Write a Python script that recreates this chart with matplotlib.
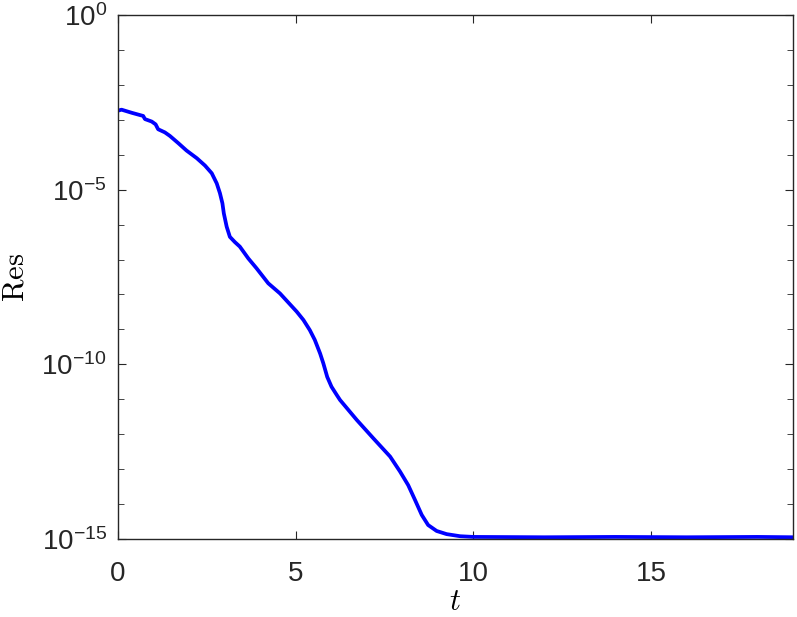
import numpy as np
import matplotlib
matplotlib.use('Agg')
import matplotlib.pyplot as plt
from matplotlib.ticker import FixedLocator, FuncFormatter

plt.rcParams['font.family'] = ['Liberation Sans', 'DejaVu Sans']
plt.rcParams['mathtext.fontset'] = 'custom'
plt.rcParams['mathtext.rm'] = 'Liberation Sans'
plt.rcParams['mathtext.it'] = 'Liberation Sans:italic'
plt.rcParams['mathtext.bf'] = 'Liberation Sans:bold'

# residual history (t, log10 Res)
t = [0.00, 0.10, 0.39, 0.71, 0.76, 0.95, 1.06, 1.13, 1.32, 1.46, 1.70, 1.93,
     2.22, 2.45, 2.64, 2.78, 2.87, 2.94, 2.98, 3.06, 3.15, 3.29, 3.43, 3.67,
     3.90, 4.23, 4.56, 4.84, 5.03, 5.22, 5.40, 5.54, 5.69, 5.78, 5.89, 6.01,
     6.16, 6.25, 6.72, 7.19, 7.66, 7.94, 8.17, 8.36, 8.55, 8.73, 8.97,
     9.25, 9.63, 10.0, 12.0, 14.0, 16.0, 18.0, 19.0]
log_res = [-2.74, -2.71, -2.80, -2.89, -2.98, -3.05, -3.13, -3.27, -3.36, -3.46,
           -3.67, -3.88, -4.10, -4.31, -4.53, -4.82, -5.10, -5.39, -5.68, -6.06,
           -6.35, -6.50, -6.63, -6.97, -7.25, -7.68, -7.97, -8.28, -8.49, -8.73,
           -9.02, -9.30, -9.69, -9.97, -10.36, -10.64, -10.88, -11.02, -11.59,
           -12.12, -12.64, -13.07, -13.46, -13.88, -14.31, -14.60, -14.77,
           -14.86, -14.92, -14.94, -14.95, -14.94, -14.95, -14.94, -14.95]

x_ticks = [0, 5, 10, 15]
y_ticks = [1e-15, 1e-10, 1e-5, 1e0]

res = 10.0 ** np.array(log_res)

fig = plt.figure(figsize=(7.97, 6.17), dpi=100)
ax = fig.add_axes([0.148, 0.1264, 0.847, 0.8493])

ax.semilogy(t, res, color=(0, 0, 1), linewidth=2.7,
            solid_joinstyle='round', solid_capstyle='round')

ax.set_xlim(0, 19)
ax.set_ylim(1e-15, 1e0)
ax.xaxis.set_major_locator(FixedLocator(x_ticks))
ax.yaxis.set_major_locator(FixedLocator(y_ticks))
ax.yaxis.set_minor_locator(FixedLocator([10.0 ** k for k in range(-15, 1)]))
ax.yaxis.set_major_formatter(FuncFormatter(
    lambda v, p: r'$\mathregular{10^{%d}}$' % int(round(np.log10(v)))))

edge = (0.15, 0.15, 0.15)
for s in ax.spines.values():
    s.set_color(edge)
    s.set_linewidth(1.0)
ax.tick_params(which='both', direction='in', top=True, right=True,
               color=edge, labelsize=20, labelcolor=(0.15, 0.15, 0.15))
ax.tick_params(which='major', length=6)
ax.tick_params(axis='y', which='major', pad=8)
ax.tick_params(axis='x', which='major', pad=16)
ax.tick_params(which='minor', length=4)
ax.tick_params(axis='y', which='minor', labelleft=False)

ax.set_xlabel(r'$t$', fontsize=22, labelpad=0, math_fontfamily='cm')
ax.set_ylabel(r'$\mathrm{Res}$', fontsize=22, labelpad=8, math_fontfamily='cm')

fig.savefig('out.png', dpi=100)
